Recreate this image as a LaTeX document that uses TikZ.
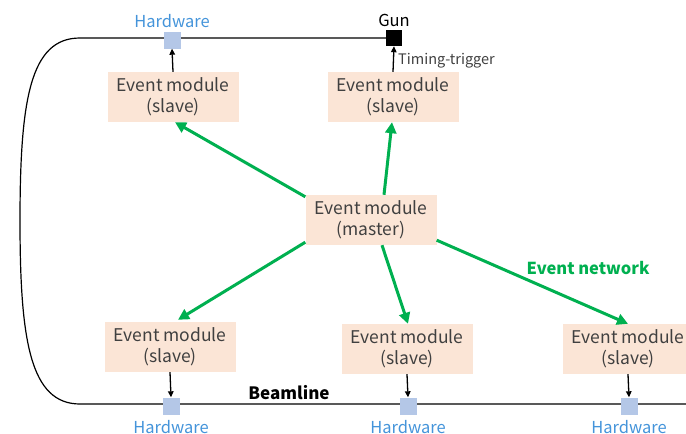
\documentclass[tikz,border=0pt]{standalone}
\usepackage{fontspec}
\setmainfont{Noto Sans CJK JP}
\usetikzlibrary{arrows.meta}
\definecolor{boxfill}{RGB}{251,229,214}
\definecolor{hwfill}{RGB}{180,199,231}
\definecolor{hwtext}{RGB}{68,148,218}
\definecolor{netgreen}{RGB}{0,176,80}
\definecolor{modtext}{RGB}{64,64,64}
\tikzset{
  module/.style={fill=boxfill, minimum width=131pt, minimum height=50pt, inner sep=0pt, align=center, text=modtext, font=\fontsize{17.5}{21}\selectfont},
  hwbox/.style={fill=hwfill, minimum width=17pt, minimum height=17pt, inner sep=0pt},
  gunbox/.style={fill=black, minimum width=16pt, minimum height=16pt, inner sep=0pt},
  hwlabel/.style={text=hwtext, font=\fontsize{16.5}{18}\selectfont, inner sep=0pt},
  net/.style={draw=netgreen, line width=3pt, -{Triangle[length=11pt,width=11pt]}},
  sig/.style={draw=black, line width=1.3pt, -{Triangle[length=6pt,width=5.5pt]}},
  beam/.style={draw=black, line width=1.2pt}
}
\begin{document}
\begin{tikzpicture}[x=1pt,y=-1pt]
\useasboundingbox (0,0) rectangle (686,434);
% beamline
\coordinate (tl) at (80,38);
\coordinate (bl) at (80,404);
\coordinate (br) at (690,404);
\coordinate (lm) at (20,221);
\node[gunbox] (gun) at (394,38) {};
\draw[beam] (gun.west) -- (tl) .. controls (30,38) and (20,100) .. (lm) .. controls (20,340) and (30,404) .. (bl) -- (br);
% hardware squares
\node[hwbox] (hw1) at (172,40) {};
\node[hwbox] (hw3) at (171,406) {};
\node[hwbox] (hw4) at (408,406) {};
\node[hwbox] (hw5) at (629,406) {};
% labels
\node[hwlabel] (lhw1) at (172,21) {Hardware};
\node[font=\fontsize{16.5}{18}\selectfont, inner sep=0pt] (lgun) at (394,20) {Gun};
\node[hwlabel] (lhw3) at (171,427) {Hardware};
\node[hwlabel] (lhw4) at (408,427) {Hardware};
\node[hwlabel] (lhw5) at (629,427) {Hardware};
\node[font=\bfseries\fontsize{17}{18}\selectfont, inner sep=0pt] (lbeam) at (289,393) {Beamline};
\node[font=\bfseries\fontsize{16.5}{18}\selectfont, text=netgreen, inner sep=0pt] (lnet) at (588,268) {Event network};
% modules
\node[module] (s1) at (173,97) {Event module\\(slave)};
\node[module] (s2) at (393,97) {Event module\\(slave)};
\node[module] (m) at (371,220) {Event module\\(master)};
\node[module] (s3) at (170,347) {Event module\\(slave)};
\node[module] (s4) at (407,349) {Event module\\(slave)};
\node[module] (s5) at (628,349) {Event module\\(slave)};
% signals
\draw[sig] (s1.north) -- (hw1.south);
\draw[sig] (s2.north) -- (gun.south);
\node[anchor=west, font=\fontsize{14.5}{16}\selectfont, text=modtext, inner sep=0pt] (ltt) at (398,61) {Timing-trigger};
\draw[sig] (s3.south) -- (hw3.north);
\draw[sig] (s4.south) -- (hw4.north);
\draw[sig] (s5.south) -- (hw5.north);
% event network
\draw[net] ([yshift=-2pt]m.north west) -- ([xshift=2pt]s1.south);
\draw[net] ([xshift=13pt]m.north) -- ([xshift=-1pt]s2.south);
\draw[net] ([yshift=3pt]m.south west) -- ([xshift=8pt,yshift=2pt]s3.north);
\draw[net] ([xshift=11pt]m.south) -- ([xshift=1pt]s4.north);
\draw[net] ([yshift=5pt]m.south east) -- (s5.north);
\end{tikzpicture}
\end{document}
